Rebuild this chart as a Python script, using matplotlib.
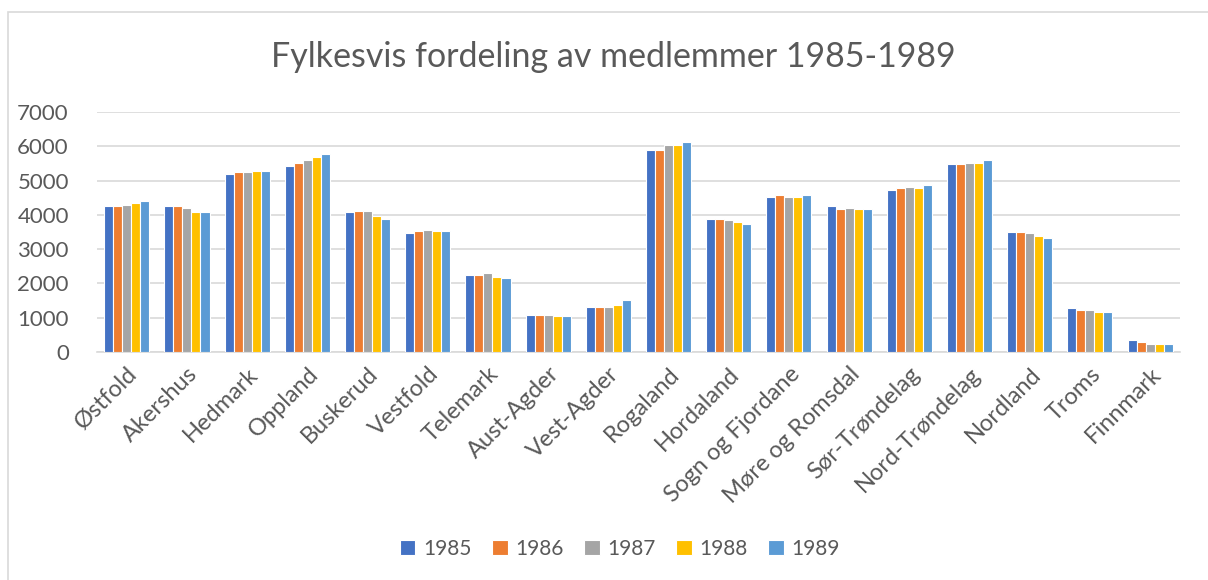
import matplotlib
matplotlib.use('Agg')
import matplotlib.pyplot as plt
from matplotlib.patches import Rectangle
import numpy as np

# Data
fylker = ['Østfold', 'Akershus', 'Hedmark', 'Oppland', 'Buskerud', 'Vestfold',
          'Telemark', 'Aust-Agder', 'Vest-Agder', 'Rogaland', 'Hordaland',
          'Sogn og Fjordane', 'Møre og Romsdal', 'Sør-Trøndelag',
          'Nord-Trøndelag', 'Nordland', 'Troms', 'Finnmark']
aar = ['1985', '1986', '1987', '1988', '1989']

v1985 = [4260, 4260, 5190, 5430, 4070, 3470, 2250, 1090, 1320, 5880, 3880, 4530, 4250, 4730, 5470, 3500, 1270, 340]
v1986 = [4260, 4260, 5240, 5520, 4120, 3520, 2250, 1090, 1320, 5880, 3880, 4580, 4170, 4770, 5470, 3500, 1220, 290]
v1987 = [4300, 4210, 5240, 5610, 4120, 3560, 2300, 1090, 1320, 6030, 3840, 4530, 4200, 4820, 5520, 3470, 1220, 240]
v1988 = [4350, 4070, 5290, 5700, 3980, 3520, 2200, 1040, 1370, 6030, 3790, 4530, 4170, 4770, 5520, 3370, 1180, 240]
v1989 = [4400, 4070, 5290, 5760, 3890, 3520, 2160, 1040, 1510, 6120, 3740, 4580, 4170, 4860, 5600, 3320, 1180, 240]
serier = [v1985, v1986, v1987, v1988, v1989]
farger = ['#4472C4', '#ED7D31', '#A5A5A5', '#FFC000', '#5B9BD5']

plt.rcParams['font.family'] = ['Lato', 'DejaVu Sans']
tekst = '#595959'

fig = plt.figure(figsize=(12.08, 5.8), dpi=100)
ax = fig.add_axes([0.080, 0.393, 0.897, 0.414])

# ramme rundt diagrammet (kun venstre og topp synlig)
fig.patches.append(Rectangle((8 / 1208, -0.1), 1.2, 1.1 - 12 / 580, transform=fig.transFigure,
                             fill=False, edgecolor='#D9D9D9', linewidth=1.2))

x = np.arange(len(fylker))
bredde = 0.15
for i, (verdier, farge) in enumerate(zip(serier, farger)):
    ax.bar(x + (i - 2) * bredde, verdier, bredde, color=farge, edgecolor='white',
           linewidth=0.8, label=aar[i], zorder=3)

ax.set_xlim(-0.5, len(fylker) - 0.5)
ax.set_ylim(0, 7000)
ax.set_yticks(range(0, 7001, 1000))
ax.grid(axis='y', color='#D9D9D9', linewidth=1.2, zorder=0)
for s in ['top', 'right', 'left']:
    ax.spines[s].set_visible(False)
ax.spines['bottom'].set_color('#D9D9D9')
ax.spines['bottom'].set_linewidth(1.2)
ax.tick_params(axis='x', length=0, labelsize=17, colors=tekst, pad=8)
ax.tick_params(axis='y', length=0, labelsize=16, colors=tekst, pad=20)
ax.set_xticks(x)
ax.set_xticklabels(fylker, rotation=45, ha='right', rotation_mode='anchor')

fig.text(0.508, 1 - 57 / 580, 'Fylkesvis fordeling av medlemmer 1985-1989',
         ha='center', va='center', fontsize=24.5, color=tekst)

fig.legend(loc='center', bbox_to_anchor=(0.513, 1 - 549 / 580), ncol=5, frameon=False,
           fontsize=15, labelcolor=tekst, handlelength=0.75, handleheight=0.75,
           handletextpad=0.35, columnspacing=1.0)

plt.savefig('out.png', dpi=100)
plt.close()
